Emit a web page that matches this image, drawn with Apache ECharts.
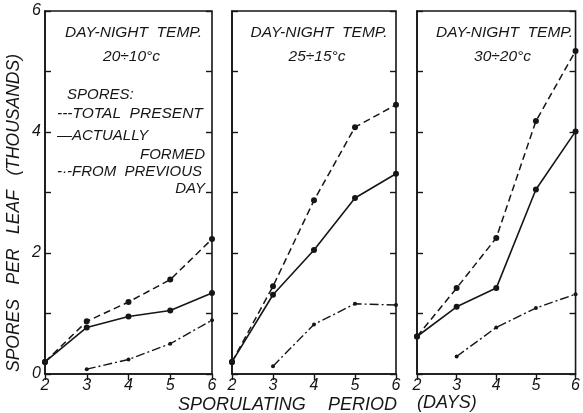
<!DOCTYPE html>
<html><head><meta charset="utf-8">
<script src="https://cdn.jsdelivr.net/npm/echarts@6/dist/echarts.min.js"></script>
<style>html,body{margin:0;padding:0;background:#fff}#c{width:583px;height:413px}</style>
</head><body><div id="c"></div>
<script>
const days = [2, 3, 4, 5, 6];
const yTickLabels = ['0', '2', '4', '6'];
const panelTemps = ['20÷10°c', '25÷15°c', '30÷20°c'];
const panelHeading = 'DAY-NIGHT  TEMP.';
const totalPresent = [
  [0.2, 0.87, 1.19, 1.56, 2.23],
  [0.2, 1.45, 2.87, 4.08, 4.45],
  [0.62, 1.42, 2.25, 4.18, 5.34]
];
const actuallyFormed = [
  [0.2, 0.77, 0.95, 1.05, 1.34],
  [0.2, 1.31, 2.05, 2.91, 3.31],
  [0.62, 1.11, 1.42, 3.05, 4.01]
];
const fromPrevious = [
  [null, 0.08, 0.24, 0.5, 0.89],
  [null, 0.13, 0.82, 1.16, 1.14],
  [null, 0.29, 0.77, 1.09, 1.32]
];
const legendTitle = 'SPORES:';
const legendLines = ['---TOTAL  PRESENT', '—ACTUALLY', 'FORMED', '-·-FROM  PREVIOUS', 'DAY'];
const yTitle = 'SPORES   PER   LEAF   (THOUSANDS)';
const xTitleParts = ['SPORULATING', 'PERIOD', '(DAYS)'];

const FONT = "'Liberation Sans', Arial, sans-serif";
const INK = '#161616';
const layout = [{left: 45, width: 167}, {left: 232, width: 164}, {left: 417, width: 165}];
const TOP = 11, BOTTOM = 39;

const grids = layout.map(g => ({left: g.left, width: g.width, top: TOP, bottom: BOTTOM,
  show: true, borderColor: INK, borderWidth: 1.6, backgroundColor: 'transparent'}));

const xAxes = [], yAxes = [], series = [];
const tickStyle = {inside: true, length: 6, lineStyle: {color: INK, width: 1.4}};
layout.forEach((g, i) => {
  xAxes.push({type: 'value', gridIndex: i, min: 2, max: 6, interval: 1, position: 'bottom',
    axisLine: {show: true, lineStyle: {color: INK, width: 1.6}},
    axisTick: {show: false}, splitLine: {show: false},
    axisLabel: {show: true, color: INK, fontFamily: FONT, fontStyle: 'italic', fontSize: 16, margin: 4,
      formatter: v => String(v)}});
  xAxes.push({type: 'value', gridIndex: i, min: 2, max: 6, interval: 1, position: 'top',
    axisLine: {show: false}, axisTick: tickStyle, splitLine: {show: false}, axisLabel: {show: false}});
  yAxes.push({type: 'value', gridIndex: i, min: 0, max: 6, interval: 1, position: 'left',
    axisLine: {show: true, lineStyle: {color: INK, width: 1.6}},
    axisTick: tickStyle, splitLine: {show: false},
    axisLabel: {show: i === 0, color: INK, fontFamily: FONT, fontStyle: 'italic', fontSize: 16, margin: 4,
      formatter: v => (yTickLabels.indexOf(String(v)) >= 0 ? String(v) : '')}});
  yAxes.push({type: 'value', gridIndex: i, min: 0, max: 6, interval: 1, position: 'right',
    axisLine: {show: false}, axisTick: tickStyle, splitLine: {show: false}, axisLabel: {show: false}});

  const mk = (arr) => days.map((d, k) => [d, arr[k]]).filter(p => p[1] !== null);
  const base = {type: 'line', xAxisIndex: i * 2, yAxisIndex: i * 2, symbol: 'circle', clip: false,
    itemStyle: {color: INK}, animation: false, silent: true};
  series.push(Object.assign({}, base, {name: 'total', data: mk(totalPresent[i]), symbolSize: 6,
    lineStyle: {color: INK, width: 1.5, type: [7, 4]}}));
  series.push(Object.assign({}, base, {name: 'formed', data: mk(actuallyFormed[i]), symbolSize: 6,
    lineStyle: {color: INK, width: 1.6, type: 'solid'}}));
  series.push(Object.assign({}, base, {name: 'previous', data: mk(fromPrevious[i]), symbolSize: 4,
    lineStyle: {color: INK, width: 1.4, type: [9, 3, 2, 3]}}));
});

const txt = (text, x, y, opts) => Object.assign({type: 'text', x: x, y: y, silent: true,
  style: Object.assign({text: text, fill: INK, font: 'italic 15px ' + FONT, textVerticalAlign: 'middle'},
    opts || {})});

const graphic = [];
layout.forEach((g, i) => {
  const cx = g.left + g.width / 2 + 5;
  graphic.push(txt(panelHeading, cx, 33, {textAlign: 'center', font: 'italic 15.5px ' + FONT}));
  graphic.push(txt(panelTemps[i], cx - 2, 57, {textAlign: 'center', font: 'italic 15.5px ' + FONT}));
});
graphic.push(txt(legendTitle, 67, 95, {textAlign: 'left'}));
graphic.push(txt(legendLines[0], 57, 114, {textAlign: 'left', font: 'italic 15.5px ' + FONT}));
graphic.push(txt(legendLines[1], 57, 136, {textAlign: 'left'}));
graphic.push(txt(legendLines[2], 205, 155, {textAlign: 'right'}));
graphic.push(txt(legendLines[3], 57, 172, {textAlign: 'left'}));
graphic.push(txt(legendLines[4], 205, 189, {textAlign: 'right'}));
graphic.push({type: 'text', x: 14, y: 213, rotation: Math.PI / 2, silent: true,
  style: {text: yTitle, fill: INK, font: 'italic 17.5px ' + FONT, textAlign: 'center', textVerticalAlign: 'middle'}});
graphic.push(txt(xTitleParts[0], 178, 405, {textAlign: 'left', font: 'italic 18px ' + FONT}));
graphic.push(txt(xTitleParts[1], 328, 405, {textAlign: 'left', font: 'italic 18px ' + FONT}));
graphic.push(txt(xTitleParts[2], 417, 403, {textAlign: 'left', font: 'italic 18px ' + FONT}));

const chart = echarts.init(document.getElementById('c'), null, {renderer: 'canvas'});
chart.setOption({backgroundColor: '#ffffff', animation: false, grid: grids, xAxis: xAxes, yAxis: yAxes,
  series: series, graphic: graphic});
</script></body></html>
